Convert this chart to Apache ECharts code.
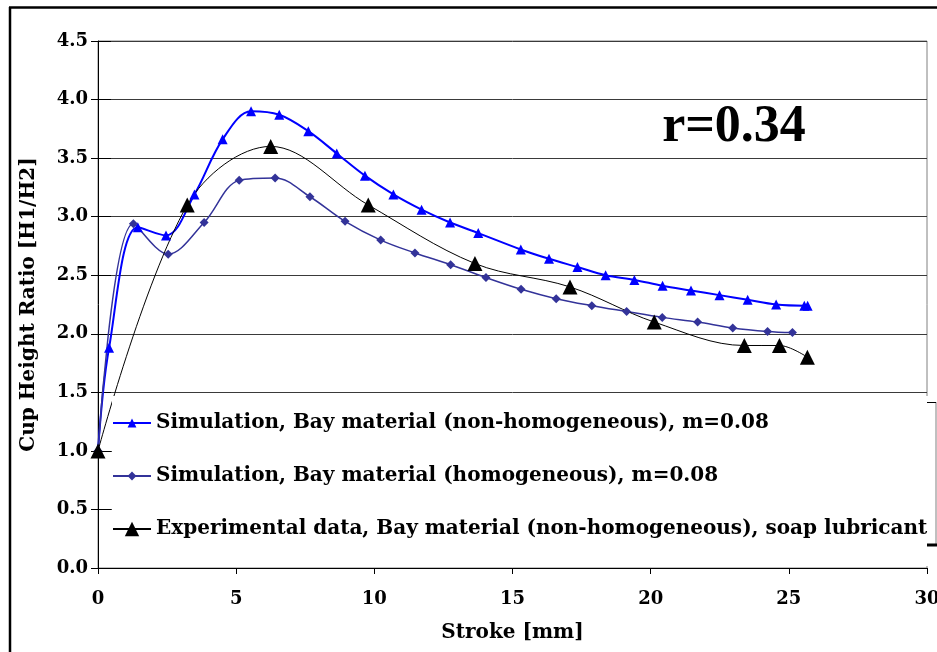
<!DOCTYPE html>
<html>
<head>
<meta charset="utf-8">
<script src="https://cdn.jsdelivr.net/npm/echarts@6/dist/echarts.min.js"></script>
<style>
html,body{margin:0;padding:0;background:#fff;overflow:hidden;}
#chart{width:937px;height:652px;}
</style>
</head>
<body>
<div id="chart"></div>
<script>
// ---- data ----
var strokeNonHomog = [0, 0.40, 1.44, 2.46, 3.49, 4.51, 5.54, 6.56, 7.61, 8.64, 9.66, 10.69, 11.71, 12.74, 13.76, 15.30, 16.32, 17.35, 18.37, 19.41, 20.43, 21.46, 22.49, 23.51, 24.54, 25.56, 25.68];
var ratioNonHomog  = [1.00, 1.88, 2.91, 2.84, 3.19, 3.66, 3.90, 3.87, 3.73, 3.54, 3.35, 3.19, 3.06, 2.95, 2.86, 2.72, 2.64, 2.57, 2.50, 2.46, 2.41, 2.37, 2.33, 2.29, 2.25, 2.24, 2.24];

var strokeHomog = [0, 1.28, 2.54, 3.84, 5.11, 6.41, 7.67, 8.94, 10.23, 11.47, 12.76, 14.04, 15.31, 16.58, 17.87, 19.13, 20.42, 21.70, 22.97, 24.23, 25.13];
var ratioHomog  = [1.00, 2.94, 2.68, 2.95, 3.31, 3.33, 3.17, 2.96, 2.80, 2.69, 2.59, 2.48, 2.38, 2.30, 2.24, 2.19, 2.14, 2.10, 2.05, 2.02, 2.01];

var strokeExp = [0, 3.23, 6.25, 9.78, 13.64, 17.08, 20.13, 23.39, 24.66, 25.67];
var ratioExp  = [1.00, 3.10, 3.60, 3.10, 2.60, 2.40, 2.10, 1.90, 1.90, 1.80];

var seriesNames = [
  'Simulation, Bay material (non-homogeneous), m=0.08',
  'Simulation, Bay material (homogeneous), m=0.08',
  'Experimental data, Bay material (non-homogeneous), soap lubricant'
];
var xAxisTitle = 'Stroke [mm]';
var yAxisTitle = 'Cup Height Ratio [H1/H2]';
var annotation = 'r=0.34';

function zip(xs, ys){ return xs.map(function(x,i){ return [x, ys[i]]; }); }

var FONT = 'DejaVu Serif';
var chart = echarts.init(document.getElementById('chart'), null, {renderer:'canvas'});

function legendFor(idx, top, itemH){
  return {
    data: [seriesNames[idx]],
    orient: 'vertical',
    left: 112, top: top,
    padding: 0, z: 20,
    itemWidth: 38, itemHeight: itemH,
    selectedMode: false,
    textStyle: {fontFamily: FONT, fontWeight: 'bold', fontSize: 20, color: '#000', lineHeight: 22}
  };
}

var option = {
  backgroundColor: '#fff',
  animation: false,
  grid: {left: 98, right: 10, top: 41, bottom: 84, show: true, borderColor: '#808080', borderWidth: 1,
    backgroundColor: 'transparent', containLabel: false, outerBoundsMode: 'none'},
  xAxis: {
    type: 'value', min: 0, max: 30, interval: 5,
    name: xAxisTitle, nameLocation: 'middle', nameGap: 55,
    nameTextStyle: {fontFamily: FONT, fontWeight: 'bold', fontSize: 20, color: '#000'},
    axisLine: {show: true, lineStyle: {color: '#000', width: 1}},
    axisTick: {show: true, inside: false, length: 6, lineStyle: {color: '#000'}},
    axisLabel: {fontFamily: FONT, fontWeight: 'bold', fontSize: 18, color: '#000', margin: 22},
    splitLine: {show: false}
  },
  yAxis: [{
    type: 'value', min: 0, max: 4.5, interval: 0.5,
    name: yAxisTitle, nameLocation: 'middle', nameGap: 59,
    nameTextStyle: {fontFamily: FONT, fontWeight: 'bold', fontSize: 20, color: '#000'},
    axisLine: {show: true, lineStyle: {color: '#000', width: 1}},
    axisTick: {show: true, inside: false, length: 7, lineStyle: {color: '#000'}},
    axisLabel: {fontFamily: FONT, fontWeight: 'bold', fontSize: 18, color: '#000', margin: 10,
      formatter: function(v){ return v.toFixed(1); }},
    splitLine: {show: true, lineStyle: {color: '#3a3a3a', width: 1}}
  }, {
    type: 'value', min: 0, max: 4.5, interval: 0.5, position: 'left',
    axisLine: {show: false},
    axisTick: {show: true, inside: true, length: 13, lineStyle: {color: '#000'}},
    axisLabel: {show: false},
    splitLine: {show: false}
  }],
  legend: [legendFor(0, 412, 11), legendFor(1, 465, 11), legendFor(2, 518, 18)],
  series: [{
    name: seriesNames[0], type: 'line', data: zip(strokeNonHomog, ratioNonHomog),
    smooth: 0.35, symbol: 'triangle', symbolSize: 10, showAllSymbol: true,
    lineStyle: {color: '#0000ff', width: 2}, itemStyle: {color: '#0000ff'}, z: 2
  }, {
    name: seriesNames[1], type: 'line', data: zip(strokeHomog, ratioHomog),
    smooth: 0.35, symbol: 'diamond', symbolSize: 9, showAllSymbol: true,
    lineStyle: {color: '#333399', width: 1.5}, itemStyle: {color: '#333399'}, z: 2
  }, {
    name: seriesNames[2], type: 'line', data: zip(strokeExp, ratioExp),
    smooth: 0.35, symbol: 'triangle', symbolSize: 15, showAllSymbol: true,
    lineStyle: {color: '#000', width: 1}, itemStyle: {color: '#000'}, z: 2
  }],
  graphic: [
    // legend box background (covers the lower grid area)
    {type: 'rect', z: 5, silent: true, shape: {x: 112, y: 396, width: 824, height: 170}, style: {fill: '#fff'}},
    {type: 'line', z: 6, silent: true, shape: {x1: 936, y1: 402, x2: 936, y2: 545}, style: {stroke: '#808080', lineWidth: 1}},
    {type: 'line', z: 6, silent: true, shape: {x1: 927, y1: 402.5, x2: 936, y2: 402.5}, style: {stroke: '#000', lineWidth: 1}},
    {type: 'line', z: 6, silent: true, shape: {x1: 927, y1: 545, x2: 937, y2: 545}, style: {stroke: '#000', lineWidth: 3}},
    // outer frame
    {type: 'line', z: 6, silent: true, shape: {x1: 9, y1: 7.5, x2: 937, y2: 7.5}, style: {stroke: '#000', lineWidth: 2.5}},
    {type: 'line', z: 6, silent: true, shape: {x1: 10, y1: 7, x2: 10, y2: 652}, style: {stroke: '#000', lineWidth: 2.5}},
    // annotation
    {type: 'text', z: 6, silent: true, style: {text: annotation, x: 734, y: 128,
      textAlign: 'center', textVerticalAlign: 'middle', align: 'center', verticalAlign: 'middle',
      fontFamily: 'Liberation Serif', fontWeight: 'bold', fontSize: 52, fill: '#000'}}
  ]
};
chart.setOption(option);
</script>
</body>
</html>
